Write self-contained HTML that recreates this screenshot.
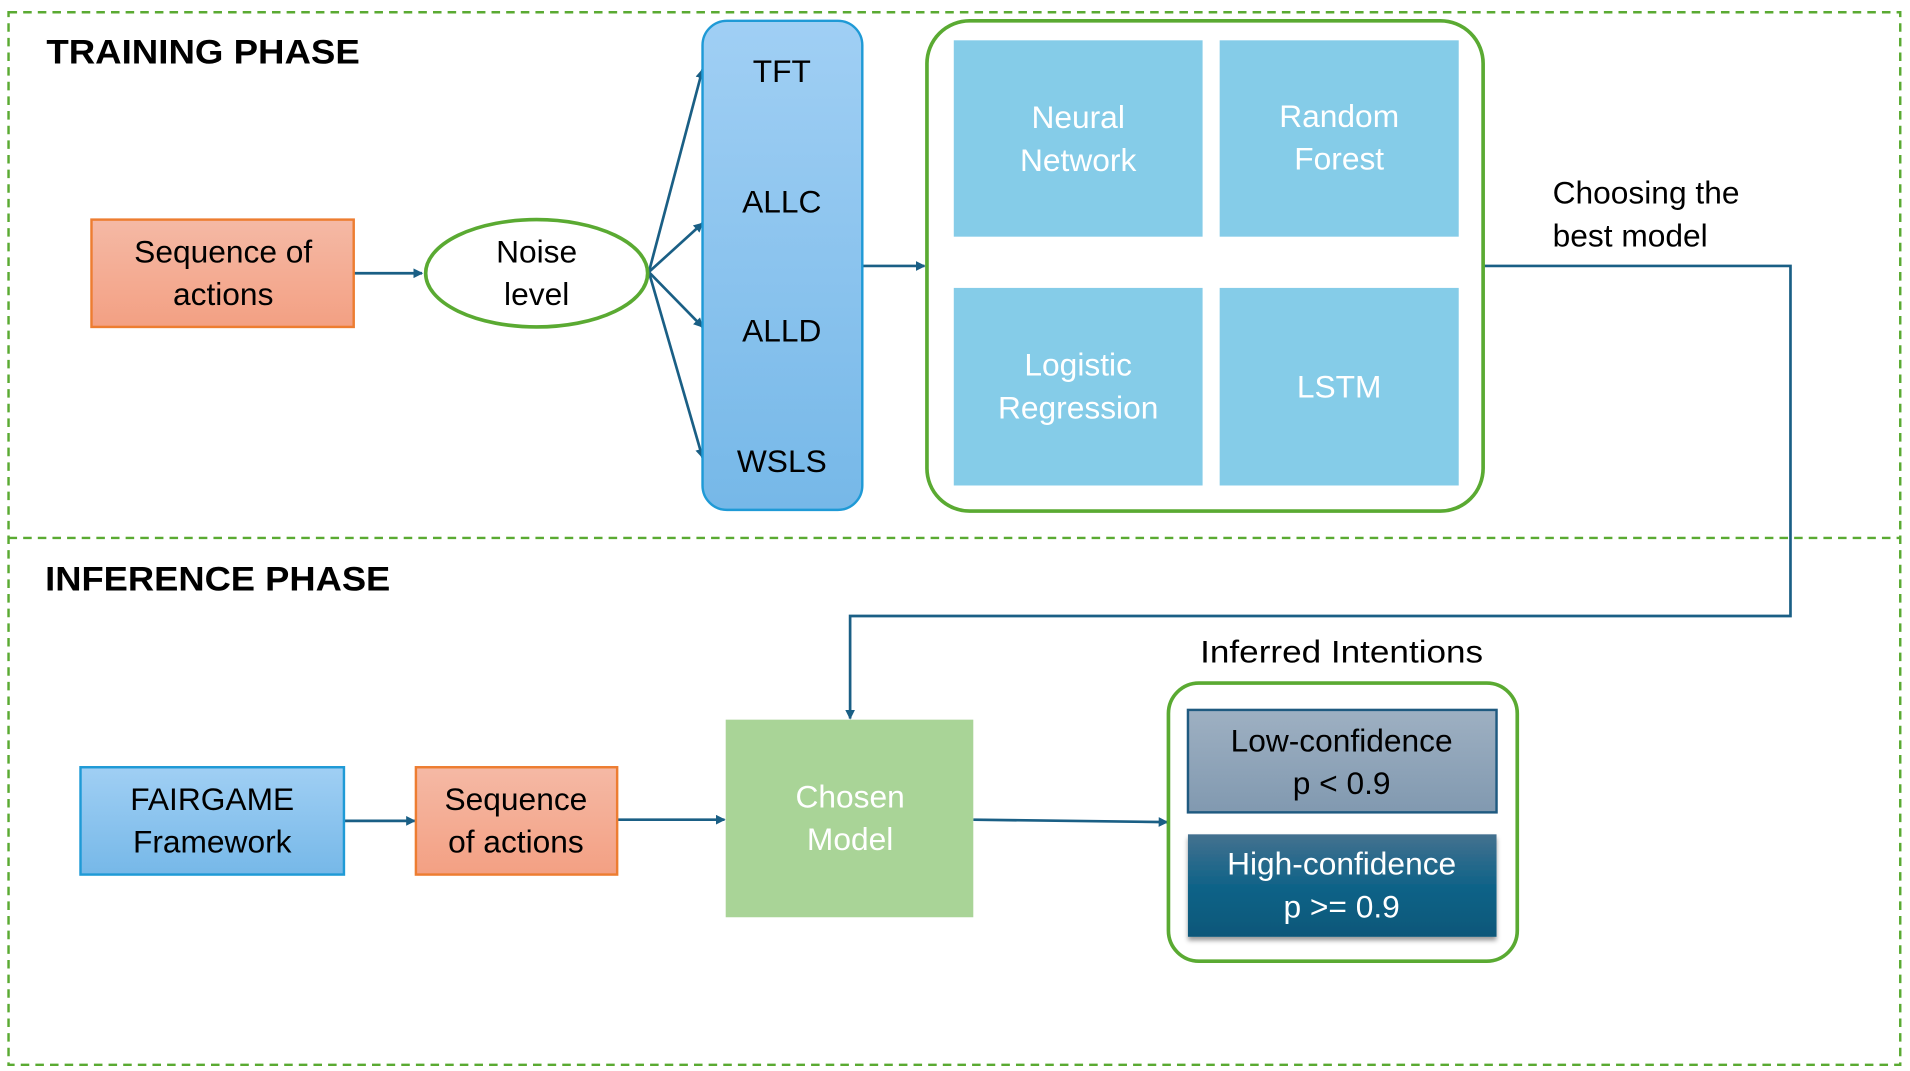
<!DOCTYPE html>
<html><head><style>html,body{margin:0;padding:0;background:#fff}svg{display:block}text{font-family:"Liberation Sans",sans-serif}</style></head>
<body>
<svg width="1910" height="1071" viewBox="0 0 1566 878" xmlns="http://www.w3.org/2000/svg">
<defs>
<linearGradient id="org" x1="0" y1="0" x2="0" y2="1"><stop offset="0" stop-color="#f5b9a5"/><stop offset="1" stop-color="#f3a083"/></linearGradient>
<linearGradient id="blu" x1="0" y1="0" x2="0" y2="1"><stop offset="0" stop-color="#a0cff4"/><stop offset="1" stop-color="#76b8e8"/></linearGradient>
<linearGradient id="low" x1="0" y1="0" x2="0" y2="1"><stop offset="0" stop-color="#9eb0c2"/><stop offset="1" stop-color="#8199b0"/></linearGradient>
<linearGradient id="high" x1="0" y1="0" x2="0" y2="1"><stop offset="0" stop-color="#44718f"/><stop offset="0.5" stop-color="#106388"/><stop offset="1" stop-color="#0b5779"/></linearGradient>
<marker id="ar" markerWidth="8" markerHeight="8" refX="7" refY="4" orient="auto" markerUnits="userSpaceOnUse"><path d="M0,0 L8,4 L0,8 z" fill="#1a5f85"/></marker>
<filter id="sh" x="-10%" y="-10%" width="120%" height="130%"><feDropShadow dx="0" dy="3" stdDeviation="2" flood-opacity="0.4"/></filter>
</defs>
<rect x="7" y="10" width="1551" height="863" fill="none" stroke="#5aaa32" stroke-width="2" stroke-dasharray="7,5"/>
<line x1="7" y1="441" x2="1558" y2="441" stroke="#5aaa32" stroke-width="2" stroke-dasharray="7,5"/>
<text x="38" y="52" font-size="28" font-weight="bold" textLength="257" lengthAdjust="spacingAndGlyphs">TRAINING PHASE</text>
<text x="37" y="484" font-size="28" font-weight="bold" textLength="283" lengthAdjust="spacingAndGlyphs">INFERENCE PHASE</text>
<g stroke="#1a5f85" stroke-width="2.2" fill="none" marker-end="url(#ar)">
<line x1="290" y1="224" x2="346" y2="224"/>
<line x1="532" y1="223" x2="576" y2="57"/>
<line x1="532" y1="223" x2="576" y2="183"/>
<line x1="532" y1="223" x2="576" y2="268"/>
<line x1="532" y1="223" x2="576" y2="375"/>
<line x1="707" y1="218" x2="758" y2="218"/>
<polyline points="1216,218 1468,218 1468,505 697,505 697,589"/>
<line x1="282" y1="673" x2="340" y2="673"/>
<line x1="506" y1="672" x2="594" y2="672"/>
<line x1="798" y1="672" x2="957" y2="674"/>
</g>
<rect x="75" y="180" width="215" height="88" fill="url(#org)" stroke="#ed7d31" stroke-width="2"/>
<text x="183" y="215" font-size="26" text-anchor="middle">Sequence of</text>
<text x="183" y="250" font-size="26" text-anchor="middle">actions</text>
<ellipse cx="440" cy="224" rx="91" ry="44" fill="#fff" stroke="#5aaa32" stroke-width="3"/>
<text x="440" y="215" font-size="26" text-anchor="middle">Noise</text>
<text x="440" y="250" font-size="26" text-anchor="middle">level</text>
<rect x="576" y="17" width="131" height="401" rx="20" fill="url(#blu)" stroke="#1f9ad6" stroke-width="2"/>
<g font-size="26" text-anchor="middle"><text x="641" y="67">TFT</text><text x="641" y="174">ALLC</text><text x="641" y="280">ALLD</text><text x="641" y="387">WSLS</text></g>
<rect x="760" y="17" width="456" height="402" rx="35" fill="#fff" stroke="#5aaa32" stroke-width="3"/>
<g fill="#85cce8"><rect x="782" y="33" width="204" height="161"/><rect x="1000" y="33" width="196" height="161"/><rect x="782" y="236" width="204" height="162"/><rect x="1000" y="236" width="196" height="162"/></g>
<g font-size="26" text-anchor="middle" fill="#fff">
<text x="884" y="105">Neural</text><text x="884" y="140">Network</text>
<text x="1098" y="104">Random</text><text x="1098" y="139">Forest</text>
<text x="884" y="308">Logistic</text><text x="884" y="343">Regression</text>
<text x="1098" y="326">LSTM</text>
</g>
<text x="1273" y="167" font-size="26">Choosing the</text>
<text x="1273" y="202" font-size="26">best model</text>
<rect x="66" y="629" width="216" height="88" fill="url(#blu)" stroke="#1f9ad6" stroke-width="2"/>
<text x="174" y="664" font-size="26" text-anchor="middle">FAIRGAME</text>
<text x="174" y="699" font-size="26" text-anchor="middle">Framework</text>
<rect x="341" y="629" width="165" height="88" fill="url(#org)" stroke="#ed7d31" stroke-width="2"/>
<text x="423" y="664" font-size="26" text-anchor="middle">Sequence</text>
<text x="423" y="699" font-size="26" text-anchor="middle">of actions</text>
<rect x="595" y="590" width="203" height="162" fill="#a9d497"/>
<text x="697" y="662" font-size="26" text-anchor="middle" fill="#fff">Chosen</text>
<text x="697" y="697" font-size="26" text-anchor="middle" fill="#fff">Model</text>
<text x="1100" y="543" font-size="26" text-anchor="middle" textLength="232" lengthAdjust="spacingAndGlyphs">Inferred Intentions</text>
<rect x="958" y="560" width="286" height="228" rx="25" fill="#fff" stroke="#5aaa32" stroke-width="3"/>
<rect x="974" y="582" width="253" height="84" fill="url(#low)" stroke="#1f5a80" stroke-width="2"/>
<text x="1100" y="616" font-size="26" text-anchor="middle">Low-confidence</text>
<text x="1100" y="651" font-size="26" text-anchor="middle">p &lt; 0.9</text>
<rect x="974" y="684" width="253" height="84" fill="url(#high)" filter="url(#sh)"/>
<text x="1100" y="717" font-size="26" text-anchor="middle" fill="#fff">High-confidence</text>
<text x="1100" y="752" font-size="26" text-anchor="middle" fill="#fff">p &gt;= 0.9</text>
</svg>
</body></html>
